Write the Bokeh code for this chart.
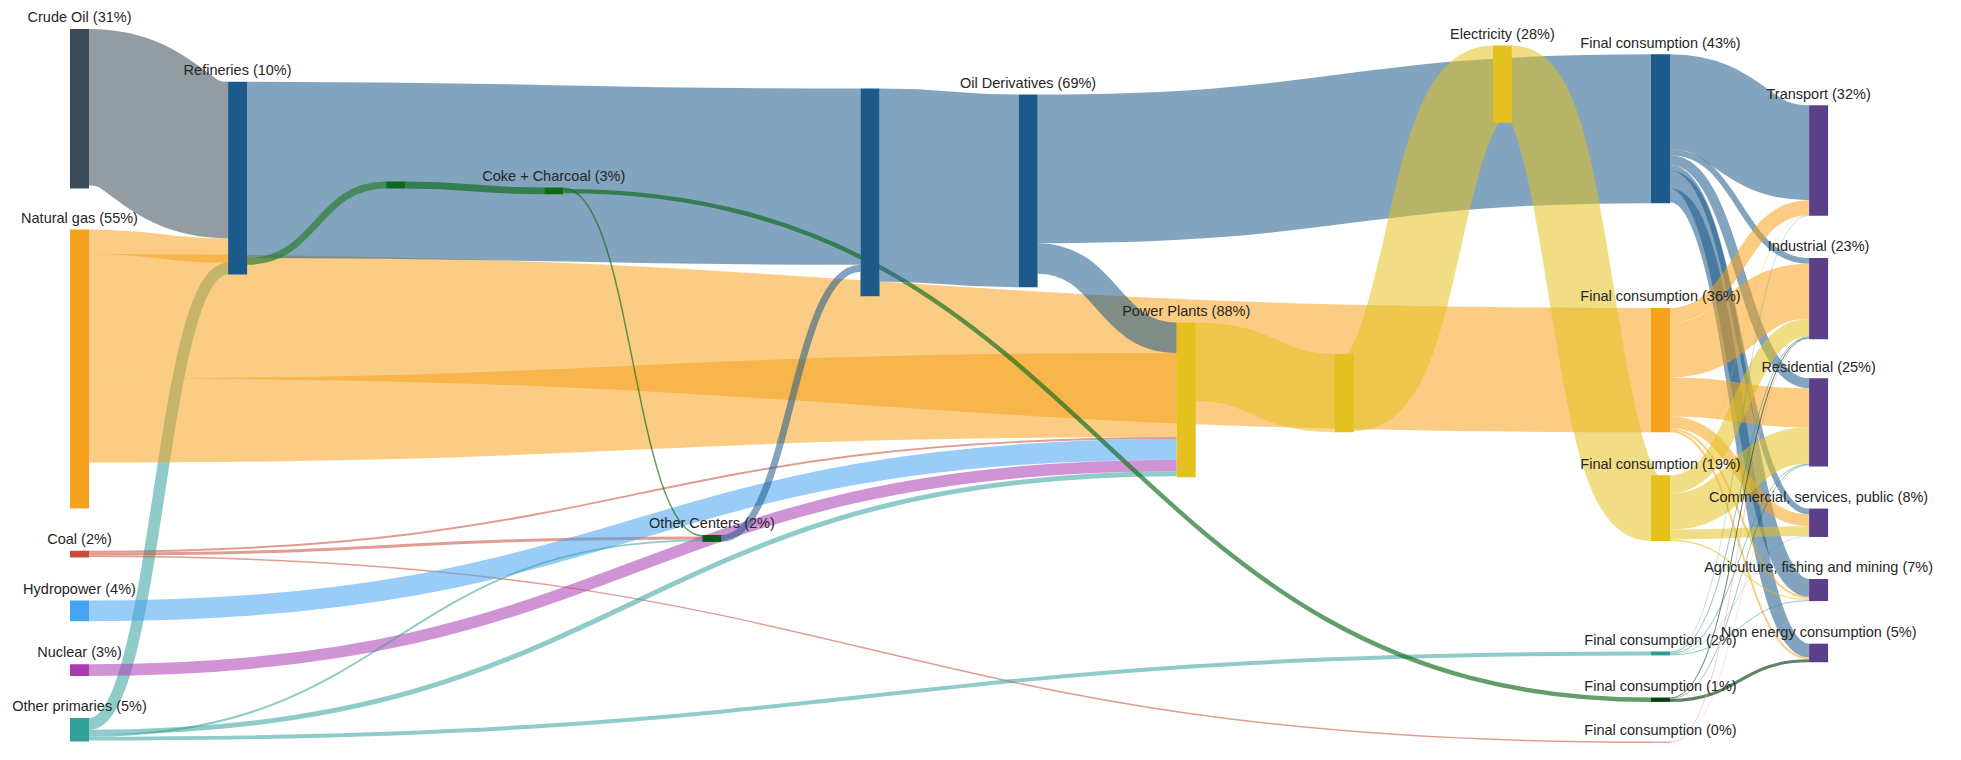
from bokeh.plotting import figure
from bokeh.models import ColumnDataSource, Range1d
from bokeh.embed import file_html
from bokeh.resources import INLINE
from bokeh.core.properties import value

# ---------------- data (flows, arbitrary energy units) ----------------
NODE_NAMES = [
    "Crude Oil", "Natural gas", "Coal", "Hydropower", "Nuclear", "Other primaries",
    "Refineries", "Charcoal plants", "Coke + Charcoal", "Other Centers",
    "Oil processing", "Oil Derivatives", "Power Plants", "Generation", "Electricity",
    "FC oil", "FC gas", "FC electricity", "FC other primaries", "FC coke", "FC coal",
    "Transport", "Industrial", "Residential", "Commercial", "Agriculture", "Non energy",
]
NODE_LABELS = [
    "Crude Oil (31%)", "Natural gas (55%)", "Coal (2%)", "Hydropower (4%)", "Nuclear (3%)",
    "Other primaries (5%)", "Refineries (10%)", "", "Coke + Charcoal (3%)", "Other Centers (2%)",
    "", "Oil Derivatives (69%)", "Power Plants (88%)", "", "Electricity (28%)",
    "Final consumption (43%)", "Final consumption (36%)", "Final consumption (19%)",
    "Final consumption (2%)", "Final consumption (1%)", "Final consumption (0%)",
    "Transport (32%)", "Industrial (23%)", "Residential (25%)",
    "Commercial, services, public (8%)", "Agriculture, fishing and mining (7%)",
    "Non energy consumption (5%)",
]
NODE_VALUES = [163, 285, 7, 21, 12, 24, 197, 7, 7, 7, 212, 197, 158, 80, 79,
               152, 127, 67, 4, 4.5, 1.5, 113, 80, 90, 29, 22, 18]

LINK_SOURCE = [0, 1, 5, 1, 1, 2, 2, 2, 3, 4, 5, 5, 5, 6, 6, 7, 8, 8, 9, 10, 11, 11, 12, 13, 14,
               15, 15, 15, 15, 15, 15,
               16, 16, 16, 16, 16, 16,
               17, 17, 17, 17, 17,
               18, 18, 18, 18, 18,
               19, 19, 19,
               20, 20]
LINK_TARGET = [6, 6, 6, 16, 12, 12, 9, 20, 12, 12, 12, 9, 18, 10, 7, 8, 9, 19, 10, 11, 15, 12, 13, 14, 17,
               21, 22, 23, 24, 25, 26,
               21, 22, 23, 24, 25, 26,
               21, 22, 23, 24, 25,
               21, 22, 23, 24, 25,
               22, 23, 26,
               22, 23]
LINK_VALUE = [160, 25, 12, 127, 86, 2, 3, 1.5, 21, 12, 5, 2, 4, 180, 7, 7, 1.5, 4.5, 7, 197, 152, 31, 80, 79, 67,
              97, 6, 10, 6, 18, 14,
              15, 56, 40, 12, 2, 2,
              0.5, 18, 37, 10, 1.5,
              0.5, 1, 1, 0.5, 1,
              1, 0.5, 3,
              1, 0.5]

# ---------------- layout & style ----------------
NODE_COLUMN = [0, 0, 0, 0, 0, 0, 1, 2, 3, 4, 5, 6, 7, 8, 9,
               10, 10, 10, 10, 10, 10, 11, 11, 11, 11, 11, 11]
NODE_TOP = [29, 234, 562, 613, 678, 733, 83, 185, 191, 546, 90, 96, 329, 361, 46,
            55, 314, 485, 665, 712, 757, 107, 263, 386, 519, 591, 657]
BLUE, YEL, PURP = "#1b5a8b", "#e4c11f", "#5b3f88"
NODE_COLOR = ["#3b4b57", "#f5a31f", "#c94a36", "#45a3ef", "#a93cb3", "#33a19b",
              BLUE, "#0c6a18", "#0c6a18", "#0c5a14", BLUE, BLUE, YEL, YEL, YEL,
              BLUE, "#f7a21c", YEL, "#2a9a93", "#0b3f12", "#e6a1b3",
              PURP, PURP, PURP, PURP, PURP, PURP]
COL_X0, COL_STEP, NODE_W = 69.5, 158.1, 19.0
W, H = 1945, 744
Y_TOP, Y_BOT = 0, 760
PX = H / (Y_BOT - Y_TOP)   # screen px per data unit (vertical)

n = len(NODE_NAMES)
sum_in = [0.0] * n
sum_out = [0.0] * n
for s, t, v in zip(LINK_SOURCE, LINK_TARGET, LINK_VALUE):
    sum_out[s] += v
    sum_in[t] += v
height = [max(NODE_VALUES[i], sum_in[i], sum_out[i]) for i in range(n)]
xl = [COL_X0 + COL_STEP * c for c in NODE_COLUMN]

# stack links on each node (d3-sankey style ordering)
L = len(LINK_VALUE)
y_src = [0.0] * L
y_tgt = [0.0] * L
for i in range(n):
    outs = sorted([k for k in range(L) if LINK_SOURCE[k] == i], key=lambda k: NODE_TOP[LINK_TARGET[k]])
    off = NODE_TOP[i]
    for k in outs:
        y_src[k] = off + LINK_VALUE[k] / 2
        off += LINK_VALUE[k]
    ins = sorted([k for k in range(L) if LINK_TARGET[k] == i], key=lambda k: NODE_TOP[LINK_SOURCE[k]])
    off = NODE_TOP[i]
    for k in ins:
        y_tgt[k] = off + LINK_VALUE[k] / 2
        off += LINK_VALUE[k]

x0 = [xl[s] + NODE_W for s in LINK_SOURCE]
x1 = [xl[t] for t in LINK_TARGET]
cx = [(a + b) / 2 for a, b in zip(x0, x1)]
lcol, lalpha = [], []
for s, t in zip(LINK_SOURCE, LINK_TARGET):
    if (s, t) == (6, 7):
        lcol.append("#2e7d32"); lalpha.append(0.7)
    elif (s, t) == (9, 10):
        lcol.append(BLUE); lalpha.append(0.55)
    elif s in (7, 8, 19):
        lcol.append(NODE_COLOR[s]); lalpha.append(0.65)
    else:
        lcol.append(NODE_COLOR[s]); lalpha.append(0.55)

link_src = ColumnDataSource(dict(
    x0=x0, y0=y_src, x1=x1, y1=y_tgt, cx0=cx, cy0=y_src, cx1=cx, cy1=y_tgt,
    w=[v * PX for v in LINK_VALUE], c=lcol, a=lalpha))

node_src = ColumnDataSource(dict(
    left=xl, right=[x + NODE_W for x in xl], top=NODE_TOP,
    bottom=[t + h for t, h in zip(NODE_TOP, height)], c=NODE_COLOR))

lab_idx = [i for i in range(n) if NODE_LABELS[i]]
label_src = ColumnDataSource(dict(
    x=[xl[i] + NODE_W / 2 for i in lab_idx],
    y=[NODE_TOP[i] - 12 for i in lab_idx],
    t=[NODE_LABELS[i] for i in lab_idx]))

p = figure(width=W, height=H, output_backend="svg", toolbar_location=None,
           x_range=Range1d(0, W), y_range=Range1d(Y_BOT, Y_TOP),
           min_border=0, title=None)
p.axis.visible = False
p.grid.visible = False
p.outline_line_color = None
p.background_fill_color = "white"
p.border_fill_color = "white"

p.bezier(x0="x0", y0="y0", x1="x1", y1="y1", cx0="cx0", cy0="cy0", cx1="cx1", cy1="cy1",
         line_width="w", line_color="c", line_alpha="a", source=link_src)
p.quad(left="left", right="right", top="top", bottom="bottom", fill_color="c",
       line_color=None, source=node_src)
p.text(x="x", y="y", text="t", source=label_src, text_font=value("Liberation Sans"),
       text_font_size="14.5px", text_color="#262626", text_align="center",
       text_baseline="middle")

open("out.html", "w").write(file_html(p, INLINE))
